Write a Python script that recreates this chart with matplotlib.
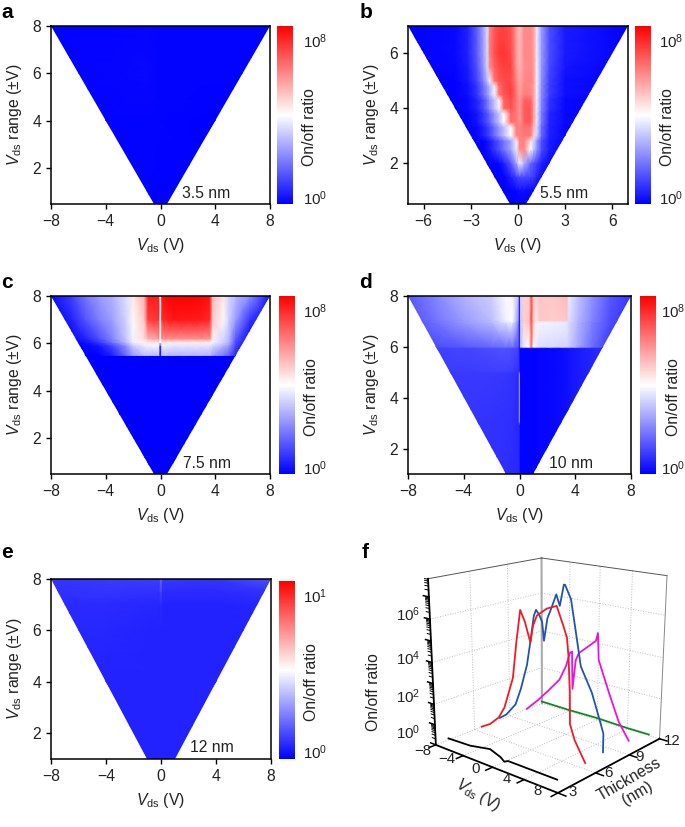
import numpy as np
import matplotlib
matplotlib.use('Agg')
import matplotlib.pyplot as plt
from matplotlib.colors import LinearSegmentedColormap, Normalize
from matplotlib.patches import Polygon
from mpl_toolkits.mplot3d import Axes3D  # noqa

W, H = 685, 827
plt.rcParams['font.family'] = ['Liberation Sans', 'DejaVu Sans']
plt.rcParams['mathtext.fontset'] = 'custom'
plt.rcParams['mathtext.rm'] = 'Liberation Sans'
plt.rcParams['mathtext.it'] = 'Liberation Sans:italic'
plt.rcParams['font.size'] = 11.3
plt.rcParams['text.color'] = '#222222'
plt.rcParams['axes.labelcolor'] = '#222222'
plt.rcParams['xtick.labelcolor'] = '#222222'
plt.rcParams['ytick.labelcolor'] = '#222222'

# all maps hold log10(on/off ratio)
a_vds = [-8, -4, -1, 0, 4, 8]
a_rng = [0.5, 4, 6, 8]
a_map = [[-.33, -.33, -.33, -.35, -.35, -.35],
         [-.33, -.31, -.30, -.33, -.34, -.35],
         [-.30, -.27, -.22, -.30, -.32, -.33],
         [-.33, -.30, -.27, -.30, -.32, -.33]]

b_vds = [-7, -4, -3.2, -2.6, -2.2, -1.95, -1.8, -1.5, -1.2, -.9, -.45, -.1, .1, .4, .8, 1.0, 1.2, 1.5, 2, 3, 7]
b_rng = [.5, 1, 1.5, 2, 2.5, 2.8, 3, 3.3, 3.5, 3.8, 4, 4.3, 4.5, 4.8, 5, 5.5, 6, 6.5, 7]
b_map = [
    [-.37, -.37, -.37, -.37, -.37, -.37, -.37, -.37, -.37, -.37, -.37, -.37, -.37, -.37, -.37, -.37, -.37, -.37, -.37, -.37, -.37],
    [-.37, -.37, -.37, -.37, -.37, -.37, -.37, -.37, -.37, -.37, -.3, -.2, -.1, -.1, -.2, -.25, -.3, -.35, -.37, -.37, -.37],
    [-.37, -.37, -.37, -.37, -.37, -.37, -.37, -.37, -.37, -.3, .2, .8, 1.0, 1.0, .9, .7, .3, -.1, -.3, -.37, -.37],
    [-.37, -.37, -.37, -.37, -.37, -.37, -.37, -.35, -.2, .2, 1.2, 2.6, 4.0, 2.8, 1.5, 1.1, .8, .2, -.2, -.37, -.37],
    [-.37, -.37, -.37, -.37, -.3, -.1, .1, .6, 1.1, 1.7, 2.6, 3.8, 6.2, 6.3, 4.2, 3.2, 2.3, 1.0, .1, -.3, -.37],
    [-.37, -.37, -.37, -.37, -.3, -.1, .1, .6, 1.1, 1.7, 2.6, 4.0, 6.3, 6.4, 4.6, 3.4, 2.3, 1.0, .1, -.3, -.37],
    [-.37, -.37, -.35, -.2, .2, .6, .9, 1.6, 2.3, 3.0, 4.2, 6.4, 6.4, 6.6, 6.6, 5.0, 3.4, 1.5, .2, -.25, -.37],
    [-.37, -.37, -.35, -.2, .2, .6, .9, 1.6, 2.3, 3.0, 4.2, 6.5, 6.4, 6.7, 6.7, 5.4, 3.5, 1.5, .2, -.25, -.37],
    [-.37, -.37, -.3, 0, .6, 1.1, 1.5, 2.3, 3.1, 4.2, 6.8, 6.6, 6.0, 7.0, 7.2, 5.8, 3.7, 1.8, .3, -.2, -.37],
    [-.37, -.37, -.3, 0, .6, 1.1, 1.5, 2.3, 3.1, 4.2, 6.9, 6.6, 6.0, 7.1, 7.2, 5.9, 3.7, 1.8, .3, -.2, -.37],
    [-.37, -.35, -.2, .3, 1.0, 1.7, 2.2, 3.1, 4.0, 6.8, 7.3, 6.6, 6.0, 7.1, 7.2, 5.9, 3.8, 2.0, .5, -.2, -.37],
    [-.37, -.35, -.2, .3, 1.0, 1.7, 2.2, 3.1, 4.0, 6.9, 7.4, 6.6, 6.0, 7.0, 7.0, 5.9, 3.8, 2.0, .5, -.2, -.37],
    [-.37, -.3, -.1, .6, 1.6, 2.3, 2.9, 4.0, 6.7, 7.2, 7.6, 6.6, 5.9, 6.5, 6.4, 5.9, 3.9, 2.1, .7, -.1, -.37],
    [-.37, -.3, -.1, .6, 1.6, 2.3, 2.9, 4.0, 6.8, 7.3, 7.6, 6.5, 5.8, 6.4, 6.3, 5.9, 3.9, 2.1, .7, -.1, -.37],
    [-.37, -.3, 0, .9, 2.0, 3.0, 4.0, 6.6, 7.2, 7.4, 7.4, 6.4, 5.7, 6.3, 6.4, 6.0, 4.0, 2.2, .8, -.1, -.37],
    [-.37, -.25, .1, 1.1, 2.3, 3.4, 6.2, 7.0, 7.4, 7.6, 7.6, 6.0, 5.5, 6.2, 6.3, 6.0, 3.9, 2.3, .9, 0, -.37],
    [-.37, -.2, .2, 1.3, 2.5, 3.5, 6.5, 7.3, 7.7, 7.8, 7.4, 6.0, 5.4, 6.3, 6.3, 5.9, 3.8, 2.4, 1.0, .1, -.37],
    [-.37, -.2, .2, 1.3, 2.5, 3.5, 6.5, 7.2, 7.6, 7.6, 7.3, 6.0, 5.4, 6.3, 6.3, 5.9, 3.8, 2.4, 1.0, .1, -.37],
    [-.37, -.2, .2, 1.4, 2.6, 3.6, 6.4, 7.2, 7.5, 7.6, 7.3, 5.9, 5.3, 6.3, 6.3, 5.9, 3.8, 2.4, 1.0, .1, -.37],
]

c_vds = [-8, -6.5, -5.5, -4.5, -3.5, -2.5, -2, -1.2, -.9, -.1, -.03, .03, .1, .4, 1, 2, 3, 3.6, 3.8, 4.6, 5, 5.5, 6.5, 8]
c_rng = [.5, 5.48, 5.5, 5.9, 6.05, 6.2, 7, 8]
c_map = [
    [-.37] * 24,
    [-.37] * 24,
    [-.37, -.37, -.35, -.3, .2, 1.6, 2.4, 3.0, 3.0, 3.0, 0, 0, 3.0, 3.0, 2.9, 2.9, 2.9, 2.8, 2.5, 1.8, 1.4, .3, -.3, -.37],
    [-.37, -.37, -.3, .0, .9, 2.2, 3.2, 3.8, 3.9, 4.0, .5, .5, 3.9, 3.8, 3.7, 3.7, 3.7, 3.7, 3.5, 2.8, 2.3, .8, -.3, -.37],
    [-.37, -.3, -.1, .6, 1.7, 3.0, 3.9, 4.4, 4.5, 4.6, 4.3, 4.3, 4.6, 4.5, 4.5, 4.5, 4.5, 4.4, 3.9, 3.3, 2.8, 1.0, -.3, -.37],
    [-.37, -.2, .2, 1.0, 2.0, 3.2, 4.0, 4.8, 5.5, 6.0, 4.3, 4.3, 6.1, 6.2, 6.2, 6.2, 6.2, 6.1, 4.4, 3.4, 2.9, 1.2, -.2, -.37],
    [-.3, .2, 1.1, 1.9, 2.5, 3.4, 4.3, 5.2, 7.6, 7.8, 4.4, 4.4, 7.9, 8.1, 8.3, 8.3, 8.2, 8.0, 5.2, 4.3, 3.3, 2.4, .6, -.3],
    [-.2, .8, 1.7, 2.4, 2.8, 3.6, 4.6, 5.6, 8.2, 8.2, 4.6, 4.6, 8.4, 8.6, 8.7, 8.7, 8.6, 8.4, 5.4, 4.6, 3.4, 3.0, 2.2, 0],
]

d_vds = [-8, -6, -4, -2, -1, -.5, -.08, 0, .08, .3, .7, .85, 1.0, 1.2, 1.45, 2.5, 3.4, 3.55, 4.2, 5.2, 6.5, 8]
d_rng = [1, 2.95, 3.05, 4.95, 5.05, 5.95, 6, 6.95, 7.05, 8]
d_map = [
    [.65, .65, .6, .5, .45, .4, .35, .2, -.3, -.3, -.3, -.3, -.3, -.3, -.25, -.2, -.1, -.05, .1, .3, .5, .5],
    [.65, .65, .6, .55, .5, .45, .35, .2, -.3, -.3, -.3, -.3, -.3, -.3, -.25, -.2, -.1, -.05, .1, .3, .5, .5],
    [.65, .65, .6, .55, .5, .45, .35, 2.5, -.3, -.3, -.3, -.3, -.3, -.3, -.25, -.2, -.1, -.05, .1, .3, .5, .5],
    [.65, .65, .65, .65, .6, .55, .4, 3.0, -.3, -.3, -.3, -.3, -.3, -.3, -.25, -.2, -.1, -.05, .1, .3, .5, .5],
    [.7, .7, .7, .75, .75, .7, .5, .4, -.3, -.3, -.3, -.3, -.3, -.3, -.25, -.2, -.1, -.05, .1, .3, .5, .5],
    [.8, .8, .85, 1.0, 1.1, 1.0, .8, 0, -.3, -.3, -.3, -.3, -.3, -.3, -.25, -.2, -.1, -.05, .1, .3, .5, .5],
    [.9, 1.0, 1.2, 1.5, 1.6, 1.6, 1.0, -.2, 3.0, 3.8, 4.2, 6.8, 4.2, 3.8, 3.6, 3.5, 3.4, 3.3, 2.6, 1.6, .6, .5],
    [.9, 1.6, 2.3, 2.9, 3.6, 3.8, 2.0, -.3, 3.2, 5.0, 5.2, 7.4, 5.2, 4.4, 4.0, 3.9, 3.8, 3.5, 2.8, 1.9, 1.0, .5],
    [1.0, 1.7, 2.4, 3.0, 3.9, 4.2, 2.2, -.3, 3.2, 5.1, 5.2, 7.5, 5.2, 4.6, 5.2, 5.1, 5.2, 3.6, 2.9, 2.0, 1.0, .5],
    [1.2, 2.0, 2.8, 3.3, 4.1, 4.4, 3.0, -.3, 3.4, 5.0, 5.1, 7.5, 5.2, 5.0, 5.2, 5.2, 5.4, 3.8, 3.1, 2.2, 1.2, .6],
]

e_vds = [-8, -4, -.12, 0, .12, 4, 8]
e_rng = [1, 4, 6, 7, 7.5, 8]
e_map = [
    [.03, .03, .03, .03, .03, .03, .03],
    [.03, .03, .03, .03, .03, .03, .03],
    [.04, .04, .03, .03, .03, .03, .03],
    [.05, .05, .04, .05, .03, .03, .04],
    [.06, .07, .06, .11, .05, .05, .06],
    [.07, .08, .09, .2, .08, .07, .13],
]

# panel f traces, vds and log10(ratio)
thick_val = [4, 6.6, 8.35, 10.6, 12]
black_vds = [-8.1, -4.9, -2.1, -.7, -.2, .3, 6.4]
black_z = [.05, .1, .3, .1, -.05, .05, .05]
red_vds = [-8.05, -6.75, -5.45, -4.6, -3.35, -2.8, -2.25, -1.65, -.95, -.6, -.1, 1.15, 2.35, 3.15, 3.6, 3.8, 4, 4.05, 4.65, 5.95]
red_z = [0, .3, .8, 1.4, 3.0, 4.8, 6.3, 5.8, 4.9, 5.7, 6.2, 6.6, 6.8, 6.0, 5.5, 4.7, 3.1, 1.6, .9, 0]
blue_vds = [-8.4, -7.4, -6, -5.2, -4.3, -3.8, -3.3, -3, -2.6, -2.2, -1.95, -1.5, -1, -.35, .1, .6, .75, 1.5, 2.2, 2.8, 4.2, 5.3, 5.7, 5.7]
blue_z = [0, .3, 1.0, 1.9, 3.2, 4.4, 5.7, 6.0, 5.8, 5.5, 4.6, 5.7, 6.2, 6.9, 6.4, 7.4, 7.4, 6.8, 5.2, 3.8, 2.7, 1.4, .9, 0]
pink_vds = [-8.07, -6.32, -4.97, -3.27, -2.37, -1.87, -1.57, -1.47, -1.07, -.67, 1.53, 1.77, 1.93, 3.33, 4.63, 5.93]
pink_z = [0, .7, 1.3, 2.1, 2.9, 3.6, 3.7, 1.8, 3.3, 3.7, 4.5, 4.9, 3.6, 2.1, .8, 0]
green_vds = [-8, -4, 0, 4, 6.7]
green_z = [.1, .08, .1, .05, .05]
z_top = 7.8

bwr_map = LinearSegmentedColormap.from_list('onoff', ['#0000ff', '#ffffff', '#ff0000'])


def px_axes(fig, x0, y0, x1, y1, **kw):
    return fig.add_axes([x0 / W, 1 - y1 / H, (x1 - x0) / W, (y1 - y0) / H], **kw)


def px_text(fig, x, y, s, **kw):
    return fig.text(x / W, 1 - y / H, s, ha='center', va='center', **kw)


def heat(fig, box, cbox, vds, rng, zz, xlim, ylim, xt, yt, clim, cticks, clabels, note, note_xy, letter, letter_xy, cpad):
    ax = px_axes(fig, *box)
    mesh = ax.pcolormesh(vds, rng, np.array(zz), cmap=bwr_map, norm=Normalize(*clim),
                         shading='gouraud', rasterized=True)
    tri = Polygon([[-ylim[1], ylim[1]], [ylim[1], ylim[1]], [ylim[0], ylim[0]], [-ylim[0], ylim[0]]],
                  closed=True, transform=ax.transData, fc='none', ec='none')
    ax.add_patch(tri)
    mesh.set_clip_path(tri)
    ax.set_xlim(-xlim, xlim)
    ax.set_ylim(*ylim)
    ax.set_xticks(xt)
    ax.set_xticklabels([str(t).replace('-', '\u2212') for t in xt])
    ax.set_yticks(yt)
    ax.tick_params(length=3.5, width=1, pad=3.5, top=False, right=False)
    for s in ax.spines.values():
        s.set_linewidth(1.1)
    ax.set_xlabel(r'$V_{\mathrm{ds}}$ (V)', labelpad=5)
    ax.set_ylabel(r'$V_{\mathrm{ds}}$ range ($\pm$V)', labelpad=6)
    px_text(fig, note_xy[0], note_xy[1], note)
    px_text(fig, letter_xy[0], letter_xy[1], letter, fontsize=15, fontweight='bold', color='black')

    cax = px_axes(fig, *cbox)
    cb = fig.colorbar(mesh, cax=cax, ticks=cticks)
    cb.set_ticklabels(clabels)
    cb.ax.tick_params(length=0, pad=cpad, labelsize=10.8)
    cb.outline.set_visible(False)
    px_text(fig, cbox[2] + 17, (cbox[1] + cbox[3]) / 2 + 12, 'On/off ratio', rotation=90)
    return ax


def main():
    fig = plt.figure(figsize=(W / 100, H / 100), dpi=100)
    t8 = [-8, -4, 0, 4, 8]
    t_thick = [3, 6, 9, 12]
    t_z = [0, 2, 4, 6]
    z_lab = [r'$10^{0}$', r'$10^{8}$']
    heat(fig, (51, 26, 270, 204), (277, 26, 293, 204), a_vds, a_rng, a_map, 8, (.5, 8), t8, [2, 4, 6, 8],
         (-.37, 8.73), [0, 8], z_lab, '3.5 nm', (206, 194), 'a', (7, 12), 7)
    heat(fig, (408, 26, 628, 204), (635, 26, 651, 204), b_vds, b_rng, b_map, 7, (.5, 7), [-6, -3, 0, 3, 6], [2, 4, 6],
         (-.37, 8.73), [0, 8], z_lab, '5.5 nm', (564, 193), 'b', (366, 12), 6)
    heat(fig, (51, 296, 270, 474), (279, 296, 295, 474), c_vds, c_rng, c_map, 8, (.5, 8), t8, [2, 4, 6, 8],
         (-.37, 8.73), [0, 8], z_lab, '7.5 nm', (207, 464), 'c', (7, 283), 5.8)
    heat(fig, (408, 296, 631, 474), (640, 296, 656, 474), d_vds, d_rng, d_map, 8, (1, 8), t8, [2, 4, 6, 8],
         (-.37, 8.73), [0, 8], z_lab, '10 nm', (571, 463), 'd', (366, 283), 3.5)
    heat(fig, (51, 579, 271, 759), (279, 581, 295, 759), e_vds, e_rng, e_map, 8, (1, 8), t8, [2, 4, 6, 8],
         (-.047, 1.09), [0, 1], [r'$10^{0}$', r'$10^{1}$'], '12 nm', (212, 748), 'e', (7, 552), 5.8)

    # panel f, axis frame drawn by hand since it has to sit on the left edge
    ax = px_axes(fig, 400, 526, 690, 806, projection='3d')
    ax.patch.set_alpha(0)
    ax.computed_zorder = False
    ax.set_proj_type('persp', focal_length=.5)
    ax.view_init(elev=17, azim=-49)
    ax.set_box_aspect((1, 1, 1.05), zoom=1.0)
    ax.set_xlim(-8, 8)
    ax.set_ylim(3, 12)
    ax.set_zlim(0, z_top)
    ax.set_axis_off()
    grid = dict(color='#bbbbbb', ls=':', lw=.7, zorder=1)
    for t in t8[1:-1]:
        ax.plot([t, t], [3, 12], [0, 0], **grid)
        ax.plot([t, t], [12, 12], [0, z_top], **grid)
    for t in t_thick[1:-1]:
        ax.plot([-8, 8], [t, t], [0, 0], **grid)
        ax.plot([-8, -8], [t, t], [0, z_top], **grid)
    for z in t_z:
        ax.plot([-8, -8], [3, 12], [z, z], **grid)
        ax.plot([-8, 8], [12, 12], [z, z], **grid)
    ax.plot([-8, -8], [12, 12], [0, z_top], color='#aaaaaa', lw=1.5, zorder=2)
    ax.plot([-8, -8], [3, 12], [z_top, z_top], color='#555555', lw=.7, zorder=2)
    ax.plot([-8, 8], [12, 12], [z_top, z_top], color='#555555', lw=.7, zorder=2)
    ax.plot([8, 8], [12, 12], [0, z_top], color='#888888', lw=.7, zorder=2)
    ax.plot([-8, -8], [3, 3], [0, z_top], color='black', lw=1.3, zorder=2)
    ax.plot([-8, 8], [3, 3], [0, 0], color='black', lw=1.3, zorder=2)
    ax.plot([8, 8], [3, 12], [0, 0], color='black', lw=1.3, zorder=2)
    for dec in range(0, 8):
        ax.plot([-8, -8.8], [3, 3], [dec, dec], color='black', lw=1.1, zorder=2)
        for m in range(2, 10):
            zm = dec + np.log10(m)
            if zm < z_top:
                ax.plot([-8, -8.5], [3, 3], [zm, zm], color='black', lw=.7, zorder=2)
    for t in t8:
        ax.plot([t, t], [3, 2.5], [0, 0], color='black', lw=1.1, zorder=2)
    for t in t_thick:
        ax.plot([8, 8.9], [t, t], [0, 0], color='black', lw=1.1, zorder=2)

    for zz, vv, col, th in [(black_z, black_vds, 'black', thick_val[0]), (red_z, red_vds, '#ee1c25', thick_val[1]),
                            (blue_z, blue_vds, '#2255aa', thick_val[2]), (pink_z, pink_vds, '#ee11dd', thick_val[3]),
                            (green_z, green_vds, '#118822', thick_val[4])]:
        ax.plot(vv, [th] * len(vv), zz, color=col, lw=1.3, zorder=7 - thick_val.index(th))

    # tick labels of panel f
    for t, x, y in zip(t8, [423, 447, 476, 507, 537], [751, 759, 769, 779, 791]):
        px_text(fig, x, y, str(t).replace('-', '\u2212'), fontsize=10.8)
    for t, x, y in zip(t_thick, [573, 608, 640, 672], [792, 773, 757, 741]):
        px_text(fig, x, y, str(t), fontsize=10.8)
    for t, y in zip(t_z, [733, 697, 659, 615]):
        px_text(fig, 408, y, r'$10^{%d}$' % t, fontsize=10.8)

    px_text(fig, 374, 692, 'On/off ratio', rotation=90)
    px_text(fig, 478, 795, r'$V_{\mathrm{ds}}$ (V)', rotation=-30)
    px_text(fig, 633, 786, 'Thickness\n(nm)', rotation=30, linespacing=1.1)
    px_text(fig, 365, 552, 'f', fontsize=15, fontweight='bold', color='black')

    fig.savefig('out.png', dpi=100)


if __name__ == "__main__":
    main()
